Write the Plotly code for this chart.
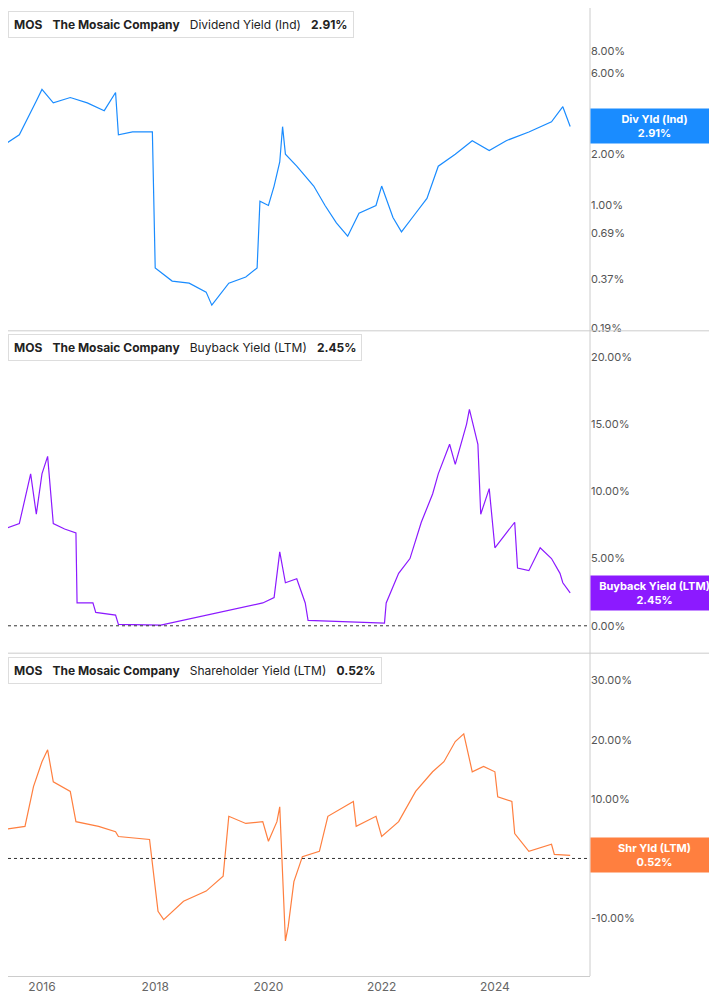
import math
import plotly.graph_objects as go

div_x = [2015.33,2015.6,2015.9,2016.0,2016.2,2016.5,2016.8,2017.1,2017.3,2017.35,2017.6,2017.95,2018.0,2018.3,2018.6,2018.9,2019.0,2019.3,2019.6,2019.8,2019.85,2020.0,2020.1,2020.2,2020.25,2020.3,2020.5,2020.8,2021.0,2021.2,2021.4,2021.6,2021.9,2022.0,2022.2,2022.35,2022.6,2022.8,2023.0,2023.3,2023.6,2023.9,2024.2,2024.6,2025.0,2025.2,2025.33]
div_y = [2.27,2.6,4.1,4.8,4.0,4.3,4.0,3.6,4.6,2.6,2.7,2.7,0.43,0.36,0.35,0.31,0.26,0.35,0.38,0.43,1.06,1.0,1.3,1.8,2.9,2.0,1.7,1.3,1.0,0.79,0.66,0.9,1.0,1.3,0.85,0.7,0.9,1.1,1.7,2.0,2.4,2.1,2.4,2.7,3.1,3.8,2.91]

bb_x = [2015.33,2015.6,2015.8,2015.9,2016.0,2016.1,2016.2,2016.4,2016.6,2016.62,2016.9,2016.95,2017.3,2017.35,2018.1,2019.9,2020.1,2020.2,2020.3,2020.5,2020.65,2020.7,2022.05,2022.08,2022.3,2022.5,2022.7,2022.9,2023.0,2023.2,2023.3,2023.5,2023.55,2023.7,2023.75,2023.9,2024.0,2024.2,2024.35,2024.4,2024.6,2024.8,2025.0,2025.15,2025.2,2025.33]
bb_y = [7.2,7.6,11.3,8.3,11.3,12.6,7.6,7.2,6.9,1.7,1.7,1.0,0.8,0.1,0.05,1.7,2.1,5.5,3.2,3.5,1.7,0.4,0.2,1.7,3.9,5.0,7.7,9.8,11.3,13.5,12.0,15.0,16.1,13.5,8.3,10.2,5.8,6.9,7.7,4.3,4.1,5.8,5.0,3.9,3.2,2.45]

sh_x = [2015.33,2015.7,2015.85,2016.0,2016.1,2016.2,2016.5,2016.6,2017.0,2017.3,2017.35,2017.9,2018.05,2018.15,2018.5,2018.9,2019.2,2019.3,2019.6,2019.9,2020.0,2020.15,2020.2,2020.25,2020.3,2020.35,2020.45,2020.6,2020.9,2021.05,2021.5,2021.55,2021.9,2022.0,2022.3,2022.6,2022.9,2023.1,2023.3,2023.45,2023.6,2023.8,2024.0,2024.05,2024.3,2024.35,2024.6,2025.0,2025.05,2025.33]
sh_y = [4.9,5.4,12.1,16.3,18.3,12.9,11.3,6.2,5.4,4.5,3.7,3.2,-8.9,-10.3,-7.2,-5.5,-3.0,7.1,5.9,6.2,2.9,6.2,8.7,-2.2,-13.9,-11.4,-3.9,0.3,1.2,7.1,9.6,5.4,7.1,3.7,6.2,11.3,14.6,16.3,19.7,21.0,14.6,15.5,14.6,10.4,9.6,4.2,1.2,2.4,0.7,0.52]

year_ticks = [2016, 2018, 2020, 2022, 2024]
div_ticks = [0.19, 0.37, 0.69, 1.0, 2.0, 3.0, 6.0, 8.0]
bb_ticks = [0, 5, 10, 15, 20]
sh_ticks = [-10, 0, 10, 20, 30]

BLUE, PURPLE, ORANGE = "#1a8cff", "#8c1aff", "#ff7f3f"
F = "Inter"
fig = go.Figure()
fig.add_trace(go.Scatter(x=div_x, y=div_y, mode="lines", line=dict(color=BLUE, width=1.2), xaxis="x", yaxis="y"))
fig.add_trace(go.Scatter(x=bb_x, y=bb_y, mode="lines", line=dict(color=PURPLE, width=1.2), xaxis="x", yaxis="y2"))
fig.add_trace(go.Scatter(x=sh_x, y=sh_y, mode="lines", line=dict(color=ORANGE, width=1.2), xaxis="x", yaxis="y3"))

xr = [2015.4, 2025.68]
common_y = dict(side="right", showgrid=False, zeroline=False, ticks="", tickfont=dict(family=F, size=11, color="#555"), fixedrange=True)
fig.update_layout(
    width=709, height=990, margin=dict(l=0, r=127, t=0, b=22),
    plot_bgcolor="white", paper_bgcolor="white", showlegend=False, font=dict(family=F),
    xaxis=dict(range=xr, tickvals=year_ticks, ticktext=[str(t) for t in year_ticks], showgrid=False, zeroline=False,
               ticks="", tickfont=dict(family=F, size=12, color="#666"), showline=True, linecolor="#ccc", anchor="y3"),
    yaxis=dict(type="log", domain=[0.667, 1], range=[-0.733, 1.159], tickvals=div_ticks,
               ticktext=["%.2f%%" % t for t in div_ticks], anchor="x", **common_y),
    yaxis2=dict(domain=[0.334, 0.666], range=[-2, 21.9], tickvals=bb_ticks,
                ticktext=["%.2f%%" % t for t in bb_ticks], anchor="x", **common_y),
    yaxis3=dict(domain=[0, 0.333], range=[-19.8, 34.5], tickvals=sh_ticks,
                ticktext=["%.2f%%" % t for t in sh_ticks], anchor="x", **common_y),
)
shapes = [
    dict(type="line", xref="paper", yref="paper", x0=1, x1=1, y0=0, y1=1, line=dict(color="#ccc", width=1)),
    dict(type="line", xref="paper", yref="paper", x0=0, x1=1.215, y0=0.6665, y1=0.6665, line=dict(color="#ccc", width=1)),
    dict(type="line", xref="paper", yref="paper", x0=0, x1=1.215, y0=0.3335, y1=0.3335, line=dict(color="#ccc", width=1)),
    dict(type="line", xref="paper", yref="y2", x0=0, x1=1, y0=0, y1=0, line=dict(color="#333", width=1, dash="dot")),
    dict(type="line", xref="paper", yref="y3", x0=0, x1=1, y0=0, y1=0, line=dict(color="#333", width=1, dash="dot")),
]
fig.update_layout(shapes=shapes)

def legend(ypaper, color, metric, val):
    fig.add_annotation(xref="paper", yref="paper", x=0.0, y=ypaper, xanchor="left", yanchor="top", showarrow=False,
                       text="<b>MOS</b>   <b>The Mosaic Company</b>   %s   <b>%s</b>" % (metric, val),
                       font=dict(family=F, size=12, color="#222"), bgcolor="white", bordercolor="#ddd",
                       borderwidth=1, borderpad=5, align="left")
    fig.add_shape(type="rect", xref="paper", yref="paper", x0=0.003, x1=0.009, y0=ypaper - 0.027, y1=ypaper - 0.004,
                  fillcolor=color, line=dict(width=0))

legend(0.997, BLUE, "Dividend Yield (Ind)", "2.91%")
legend(0.663, PURPLE, "Buyback Yield (LTM)", "2.45%")
legend(0.330, ORANGE, "Shareholder Yield (LTM)", "0.52%")

def tag(y, yref, color, l1, l2):
    fig.add_annotation(xref="paper", yref=yref, x=1.0, y=y, xanchor="left", yanchor="middle", showarrow=False,
                       text="<b>%s</b><br><b>%s</b>" % (l1, l2), font=dict(family=F, size=11, color="white"),
                       bgcolor=color, borderpad=3, width=121, align="center")

tag(math.log10(2.91), "y", BLUE, "Div Yld (Ind)", "2.91%")
tag(2.45, "y2", PURPLE, "Buyback Yield (LTM)", "2.45%")
tag(0.52, "y3", ORANGE, "Shr Yld (LTM)", "0.52%")

fig.write_html("out.html")
